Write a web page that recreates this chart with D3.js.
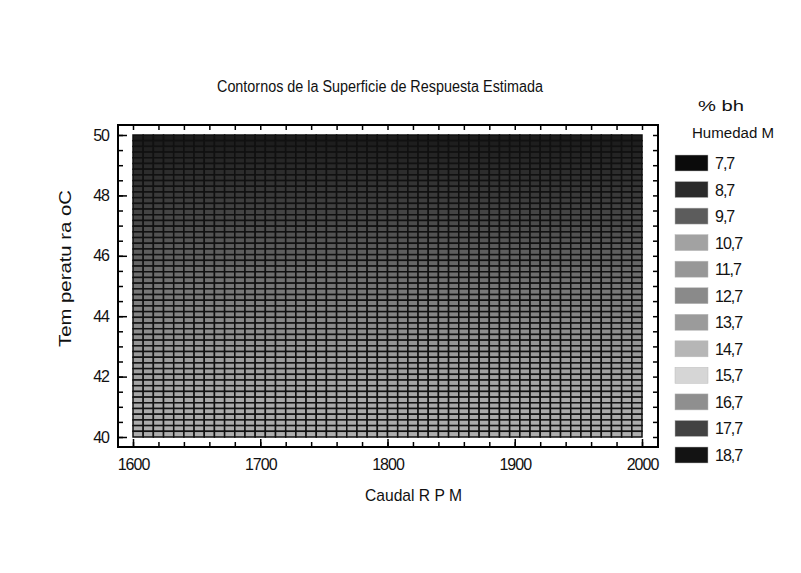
<!DOCTYPE html>
<html>
<head>
<meta charset="utf-8">
<script src="https://cdn.jsdelivr.net/npm/d3@7"></script>
<style>
  body { margin: 0; background: #fff; }
  svg text { font-family: "Liberation Sans", Arial, sans-serif; fill: #111; }
</style>
</head>
<body>
<div id="chart"></div>
<script>
// grid of the estimated surface: caudal column edges, temperature rows (top -> bottom)
var caudalEdges = d3.range(1600, 2000.1, 8);
var rowGray = [28, 30, 33, 36, 39, 42, 45, 48, 52, 55, 58, 62, 65, 68, 72, 75, 78, 82,
  86, 90, 94, 98, 102, 106, 110, 113, 117, 120, 123, 127, 130, 133, 136, 139, 142, 145,
  148, 151, 154, 156, 158, 160, 162, 164, 165, 167, 168, 169, 170, 171, 172, 173, 173];

var xTicks = [1600, 1700, 1800, 1900, 2000];
var yTicks = [40, 42, 44, 46, 48, 50];

var legendLabels = ["7,7", "8,7", "9,7", "10,7", "11,7", "12,7", "13,7", "14,7", "15,7", "16,7", "17,7", "18,7"];
var legendColors = ["#0b0b0b", "#2b2b2b", "#5c5c5c", "#a2a2a2", "#979797", "#8a8a8a",
  "#9b9b9b", "#b6b6b6", "#d6d6d6", "#8f8f8f", "#424242", "#131313"];

var width = 801, height = 573;
var frame = { left: 118, top: 125, right: 658, bottom: 447 };

var svg = d3.select("#chart").append("svg")
  .attr("width", width)
  .attr("height", height);

var x = d3.scaleLinear().domain([1600, 2000]).range([133, 642]);
var y = d3.scaleLinear().domain([40, 50]).range([437, 135]);

// rows -> temperature bands
var rowStep = 10 / rowGray.length;
var cells = [];
rowGray.forEach(function(g, i) {
  var t1 = 50 - i * rowStep, t0 = t1 - rowStep;
  for (var j = 0; j < caudalEdges.length - 1; j++) {
    cells.push({ c0: caudalEdges[j], c1: caudalEdges[j + 1], t0: t0, t1: t1, g: g });
  }
});

svg.append("g").selectAll("rect")
  .data(cells)
  .enter().append("rect")
  .attr("x", d => x(d.c0))
  .attr("y", d => y(d.t1))
  .attr("width", d => x(d.c1) - x(d.c0))
  .attr("height", d => y(d.t0) - y(d.t1))
  .attr("fill", d => d3.rgb(d.g, d.g, d.g))
  .attr("stroke", "#111")
  .attr("stroke-width", 1.5);

// frame
svg.append("rect")
  .attr("x", frame.left)
  .attr("y", frame.top)
  .attr("width", frame.right - frame.left)
  .attr("height", frame.bottom - frame.top)
  .attr("fill", "none")
  .attr("stroke", "#000")
  .attr("stroke-width", 2);

function styleAxis(g) {
  g.select(".domain").remove();
  g.selectAll("line").attr("stroke", "#000").attr("stroke-width", 1.5);
  g.selectAll("text").attr("font-size", 16).attr("fill", "#111")
    .attr("font-family", "'Liberation Sans', Arial, sans-serif")
    .style("letter-spacing", "-1px");
}

var xMinor = d3.range(1600, 2000.1, 20);
var yMinor = d3.range(40, 50.01, 0.5);

// bottom axis, ticks pointing inward
svg.append("g").attr("transform", "translate(0," + frame.bottom + ")")
  .call(d3.axisBottom(x).tickValues(xMinor).tickSize(-5).tickFormat(""))
  .call(styleAxis);
svg.append("g").attr("transform", "translate(0," + frame.bottom + ")")
  .call(d3.axisBottom(x).tickValues(xTicks).tickSize(-8).tickPadding(12).tickFormat(d3.format("d")))
  .call(styleAxis);
svg.append("g").attr("transform", "translate(0," + frame.top + ")")
  .call(d3.axisTop(x).tickValues(xMinor).tickSize(-5).tickFormat(""))
  .call(styleAxis);

// left / right axes
svg.append("g").attr("transform", "translate(" + frame.left + ",0)")
  .call(d3.axisLeft(y).tickValues(yMinor).tickSize(-5).tickFormat(""))
  .call(styleAxis);
svg.append("g").attr("transform", "translate(" + frame.left + ",0)")
  .call(d3.axisLeft(y).tickValues(yTicks).tickSize(-9).tickPadding(9).tickFormat(d3.format("d")))
  .call(styleAxis);
svg.append("g").attr("transform", "translate(" + frame.right + ",0)")
  .call(d3.axisRight(y).tickValues(yMinor).tickSize(-5).tickFormat(""))
  .call(styleAxis);

// titles
svg.append("text")
  .attr("x", 217).attr("y", 92)
  .attr("font-size", 16)
  .attr("textLength", 326).attr("lengthAdjust", "spacingAndGlyphs")
  .text("Contornos de la Superficie de Respuesta Estimada");

svg.append("text")
  .attr("x", 365).attr("y", 501)
  .attr("font-size", 17)
  .attr("textLength", 97).attr("lengthAdjust", "spacingAndGlyphs")
  .text("Caudal R P M");

svg.append("text")
  .attr("transform", "translate(71,347) rotate(-90)")
  .attr("font-size", 17)
  .attr("textLength", 157).attr("lengthAdjust", "spacingAndGlyphs")
  .text("Tem peratu ra oC");

// legend
svg.append("text")
  .attr("x", 698).attr("y", 111)
  .attr("font-size", 15)
  .attr("textLength", 46).attr("lengthAdjust", "spacingAndGlyphs")
  .text("% bh");
svg.append("text")
  .attr("x", 692).attr("y", 138)
  .attr("font-size", 14)
  .attr("textLength", 82).attr("lengthAdjust", "spacingAndGlyphs")
  .text("Humedad M");

var ly = d3.scalePoint().domain(legendLabels).range([155, 447]);

var item = svg.append("g").selectAll("g")
  .data(legendLabels)
  .enter().append("g")
  .attr("transform", d => "translate(675," + ly(d) + ")");

item.append("rect")
  .attr("width", 33)
  .attr("height", 16)
  .attr("fill", (d, i) => legendColors[i])
  .attr("stroke", "#bbb")
  .attr("stroke-width", 0.5);

item.append("text")
  .attr("x", 40).attr("y", 14)
  .attr("font-size", 16)
  .style("letter-spacing", "-1px")
  .text(d => d);
</script>
</body>
</html>
